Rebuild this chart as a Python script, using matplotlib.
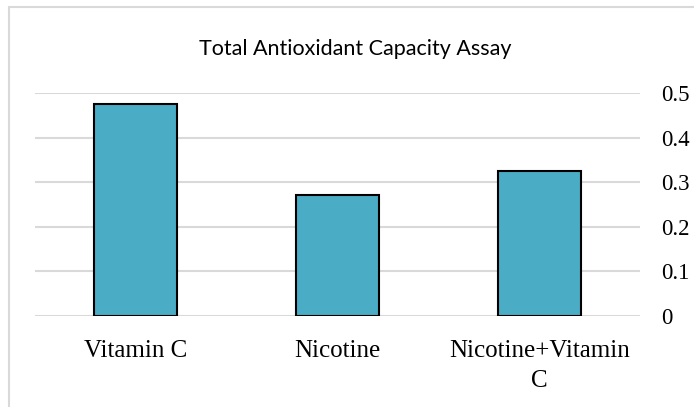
import matplotlib.pyplot as plt
from matplotlib.patches import Rectangle

categories = ['Vitamin C', 'Nicotine', 'Nicotine+Vitamin\nC']
values = [0.476, 0.271, 0.326]
yticks = [0, 0.1, 0.2, 0.3, 0.4, 0.5]
ytick_labels = ['0', '0.1', '0.2', '0.3', '0.4', '0.5']

fig = plt.figure(figsize=(6.94, 4.07), dpi=100)
ax = fig.add_axes([35/694, 1-316/407, 605/694, 223/407])

# frame round the chart, like the office chart box
fig.patches.append(Rectangle((9/694, -0.1), 690/694, 1-7/407+0.1, transform=fig.transFigure,
                             fill=False, edgecolor='#d9d9d9', linewidth=1.5, zorder=0))

x = range(len(categories))
ax.bar(x, values, width=0.41, color='#4bacc6', edgecolor='black', linewidth=1.5, zorder=3)

ax.set_xlim(-0.5, 2.5)
ax.set_ylim(0, 0.5)
ax.yaxis.tick_right()
ax.set_yticks(yticks)
ax.set_yticklabels(ytick_labels, family='Liberation Serif', fontsize=16.5)
ax.set_xticks(list(x))
ax.set_xticklabels(categories, family='Liberation Serif', fontsize=18, linespacing=1.5)
ax.tick_params(axis='y', length=0, pad=15)
ax.tick_params(axis='x', length=0, pad=17)
for lbl in ax.get_yticklabels():
    lbl.set_horizontalalignment('left')
ax.grid(axis='y', color='#d9d9d9', linewidth=1.5, zorder=0)
ax.set_axisbelow(True)
for s in ax.spines.values():
    s.set_visible(False)

fig.text(355/694, 1-49/407, 'Total Antioxidant Capacity Assay', family='Lato', fontsize=15.5,
         ha='center', va='center')

fig.savefig('out.png', dpi=100)
